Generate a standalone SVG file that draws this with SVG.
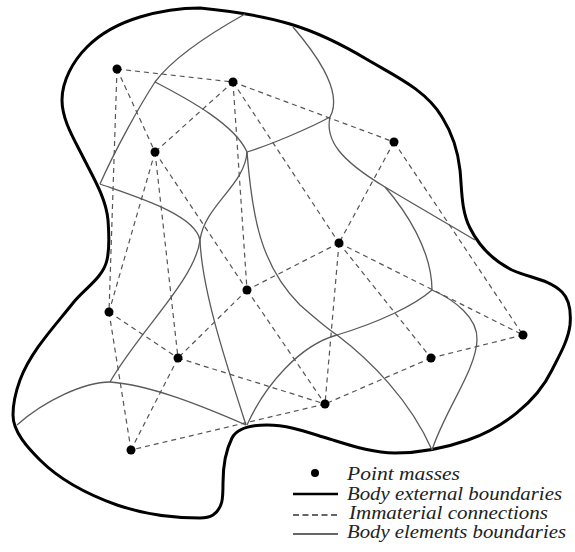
<svg xmlns="http://www.w3.org/2000/svg" width="575" height="552" viewBox="0 0 575 552">
<style>
.outer{fill:none;stroke:#000;stroke-width:3;stroke-linejoin:round}
.elem{fill:none;stroke:#5a5a5a;stroke-width:1.3}
.conn line{stroke:#555;stroke-width:1.2;stroke-dasharray:5,4}
.mass{fill:#000}
.leg{font-family:"Liberation Serif","Times New Roman",serif;font-style:italic;font-size:18px;fill:#222}
</style>
<rect width="575" height="552" fill="#fff"/>
<g id="outer-boundary">
<path class="outer" d="M200,8 C230,11 261,15 290,24 C317,32 343,45 368,60 C395,76 426,90 442,117 C452,133 458,151 460,170 C462,190 461,210 470,228 C479,246 494,261 512,270 C529,278 549,279 562,292 C570,300 571,314 570,325 C568,341 559,356 552,370 C536,403 502,428 468,440 C445,448 420,453 395,453 C370,453 347,444 323,437 C304,431 287,425 267,425 C255,425 238,427 232,438 C225,452 223,468 223,483 C223,498 223,508 213,515 C208,518 205,518 200,518 C172,518 143,514 117,505 C89,495 61,481 40,460 C28,448 13,432 13,415 C13,403 16,391 20,380 C31,351 54,327 73,303 C84,289 103,278 107,260 C110,247 109,233 108,220 C106,198 93,177 83,157 C74,139 62,120 62,100 C62,81 73,61 87,47 C101,33 120,23 140,17 C160,11 180,8 200,8 Z"/>
</g>
<g id="element-boundaries">
<path class="elem" d="M245,14 C220,28 175,55 155,82 C140,105 115,150 100,184"/>
<path class="elem" d="M155,82 C190,100 235,125 247,152"/>
<path class="elem" d="M247,152 C270,145 310,128 330,117"/>
<path class="elem" d="M293,27 C310,47 345,90 330,117"/>
<path class="elem" d="M330,117 C325,140 340,160 385,187 C420,208 450,225 475,240"/>
<path class="elem" d="M385,187 C405,210 432,250 432,290"/>
<path class="elem" d="M432,290 C455,300 478,318 477,340 C476,370 445,410 432,450"/>
<path class="elem" d="M432,290 C415,305 380,322 337,335"/>
<path class="elem" d="M247,152 C252,215 260,265 300,305 C315,318 325,327 337,335"/>
<path class="elem" d="M337,335 C370,360 410,400 432,450"/>
<path class="elem" d="M337,335 C300,345 265,385 247,425"/>
<path class="elem" d="M100,184 C140,198 195,215 200,240 C202,290 225,360 246,425"/>
<path class="elem" d="M247,152 C245,185 205,205 200,240 C195,280 140,330 110,382"/>
<path class="elem" d="M110,382 C85,382 45,400 17,425"/>
<path class="elem" d="M110,382 C150,385 200,405 246,425"/>
</g>
<g id="connectors" class="conn">
<line x1="117" y1="69" x2="233" y2="82"/>
<line x1="117" y1="69" x2="155" y2="152"/>
<line x1="117" y1="69" x2="109" y2="312"/>
<line x1="233" y1="82" x2="155" y2="152"/>
<line x1="233" y1="82" x2="394" y2="142"/>
<line x1="233" y1="82" x2="339" y2="243"/>
<line x1="233" y1="82" x2="247" y2="290"/>
<line x1="155" y1="152" x2="247" y2="290"/>
<line x1="155" y1="152" x2="109" y2="312"/>
<line x1="155" y1="152" x2="178" y2="358"/>
<line x1="394" y1="142" x2="339" y2="243"/>
<line x1="394" y1="142" x2="523" y2="335"/>
<line x1="339" y1="243" x2="247" y2="290"/>
<line x1="339" y1="243" x2="523" y2="335"/>
<line x1="339" y1="243" x2="431" y2="358"/>
<line x1="339" y1="243" x2="325" y2="404"/>
<line x1="247" y1="290" x2="178" y2="358"/>
<line x1="247" y1="290" x2="325" y2="404"/>
<line x1="109" y1="312" x2="178" y2="358"/>
<line x1="109" y1="312" x2="131" y2="450"/>
<line x1="178" y1="358" x2="325" y2="404"/>
<line x1="178" y1="358" x2="131" y2="450"/>
<line x1="523" y1="335" x2="431" y2="358"/>
<line x1="431" y1="358" x2="325" y2="404"/>
<line x1="325" y1="404" x2="131" y2="450"/>
</g>
<g id="m1"><circle class="mass" cx="117" cy="69" r="4.5"/></g>
<g id="m2"><circle class="mass" cx="233" cy="82" r="4.5"/></g>
<g id="m3"><circle class="mass" cx="155" cy="152" r="4.5"/></g>
<g id="m4"><circle class="mass" cx="394" cy="142" r="4.5"/></g>
<g id="m5"><circle class="mass" cx="339" cy="243" r="4.5"/></g>
<g id="m6"><circle class="mass" cx="247" cy="290" r="4.5"/></g>
<g id="m7"><circle class="mass" cx="109" cy="312" r="4.5"/></g>
<g id="m8"><circle class="mass" cx="178" cy="358" r="4.5"/></g>
<g id="m9"><circle class="mass" cx="523" cy="335" r="4.5"/></g>
<g id="m10"><circle class="mass" cx="431" cy="358" r="4.5"/></g>
<g id="m11"><circle class="mass" cx="325" cy="404" r="4.5"/></g>
<g id="m12"><circle class="mass" cx="131" cy="450" r="4.5"/></g>
<g id="legend">
<circle class="mass" cx="315" cy="473" r="4"/>
<text class="leg" x="347" y="480" textLength="113" lengthAdjust="spacingAndGlyphs">Point masses</text>
<line x1="293" y1="494" x2="338" y2="494" stroke="#000" stroke-width="2.6"/>
<text class="leg" x="347" y="500" textLength="215" lengthAdjust="spacingAndGlyphs">Body external boundaries</text>
<line x1="293" y1="515" x2="338" y2="515" stroke="#333" stroke-width="1.3" stroke-dasharray="6,3.5"/>
<text class="leg" x="349" y="519" textLength="199" lengthAdjust="spacingAndGlyphs">Immaterial connections</text>
<line x1="293" y1="534" x2="338" y2="534" stroke="#333" stroke-width="1.5"/>
<text class="leg" x="347" y="538" textLength="219" lengthAdjust="spacingAndGlyphs">Body elements boundaries</text>
</g>
</svg>
